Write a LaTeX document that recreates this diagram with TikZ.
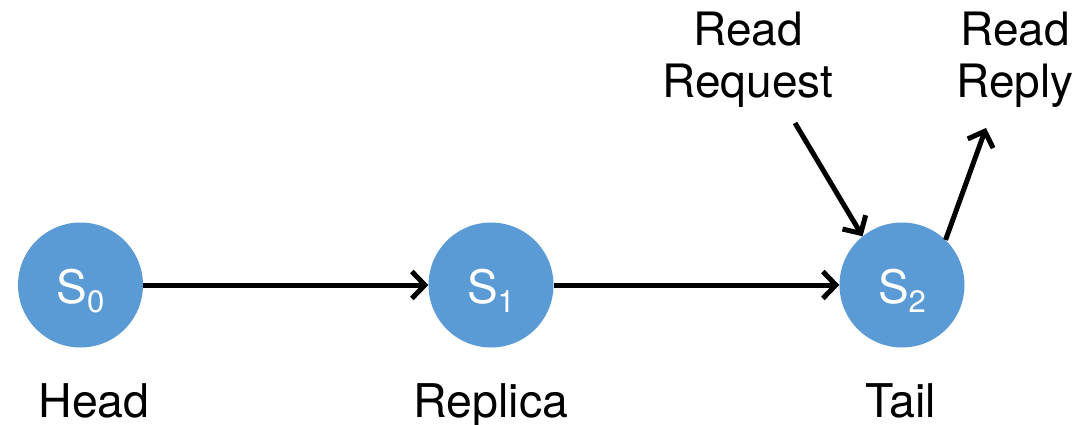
\documentclass[tikz,border=0pt]{standalone}
\usepackage{fontspec}
\setmainfont{TeX Gyre Heros}
\usetikzlibrary{arrows.meta}
\definecolor{nodeblue}{HTML}{5B9BD5}
\newcommand{\srv}[1]{S\raisebox{-0.2em}{\fontsize{31}{31}\selectfont #1}}
\begin{document}
\begin{tikzpicture}[x=1pt,y=-1pt,
  server/.style={circle,fill=nodeblue,draw=none,minimum size=125pt,inner sep=0pt},
  srvtext/.style={text=white,anchor=base,inner sep=0pt,font=\fontsize{46}{52}\selectfont},
  lbl/.style={anchor=base,inner sep=0pt,font=\fontsize{46.5}{52}\selectfont},
  lbl2/.style={anchor=north,inner sep=0pt,align=center,font=\fontsize{46}{52}\selectfont},
  link/.style={line width=5pt,-{Straight Barb[length=13pt,width=27pt]}}]
  \useasboundingbox (0,0) rectangle (1082,425);
  % chain servers
  \node[server] (s0) at (80.5,285) {};
  \node[server] (s1) at (491,285) {};
  \node[server] (s2) at (902,285) {};
  \node[srvtext] (t0) at (80.5,303) {\srv{0}};
  \node[srvtext] (t1) at (491,303) {\srv{1}};
  \node[srvtext] (t2) at (902,303) {\srv{2}};
  % role labels
  \node[lbl] (head) at (94,417) {Head};
  \node[lbl] (replica) at (491,417) {Replica};
  \node[lbl] (tail) at (901,417) {Tail};
  % read path labels
  \node[lbl2] (req) at (748,12) {Read\\Request};
  \node[lbl2] (rep) at (1015,12) {Read\\Reply};
  \coordinate (reqend) at (795,123);
  \coordinate (repend) at (986,128);
  % connectors
  \draw[link] (s0) -- (s1);
  \draw[link] (s1) -- (s2);
  \draw[link] (reqend) -- (s2.129);
  \draw[link] (s2.46) -- (repend);
\end{tikzpicture}
\end{document}
